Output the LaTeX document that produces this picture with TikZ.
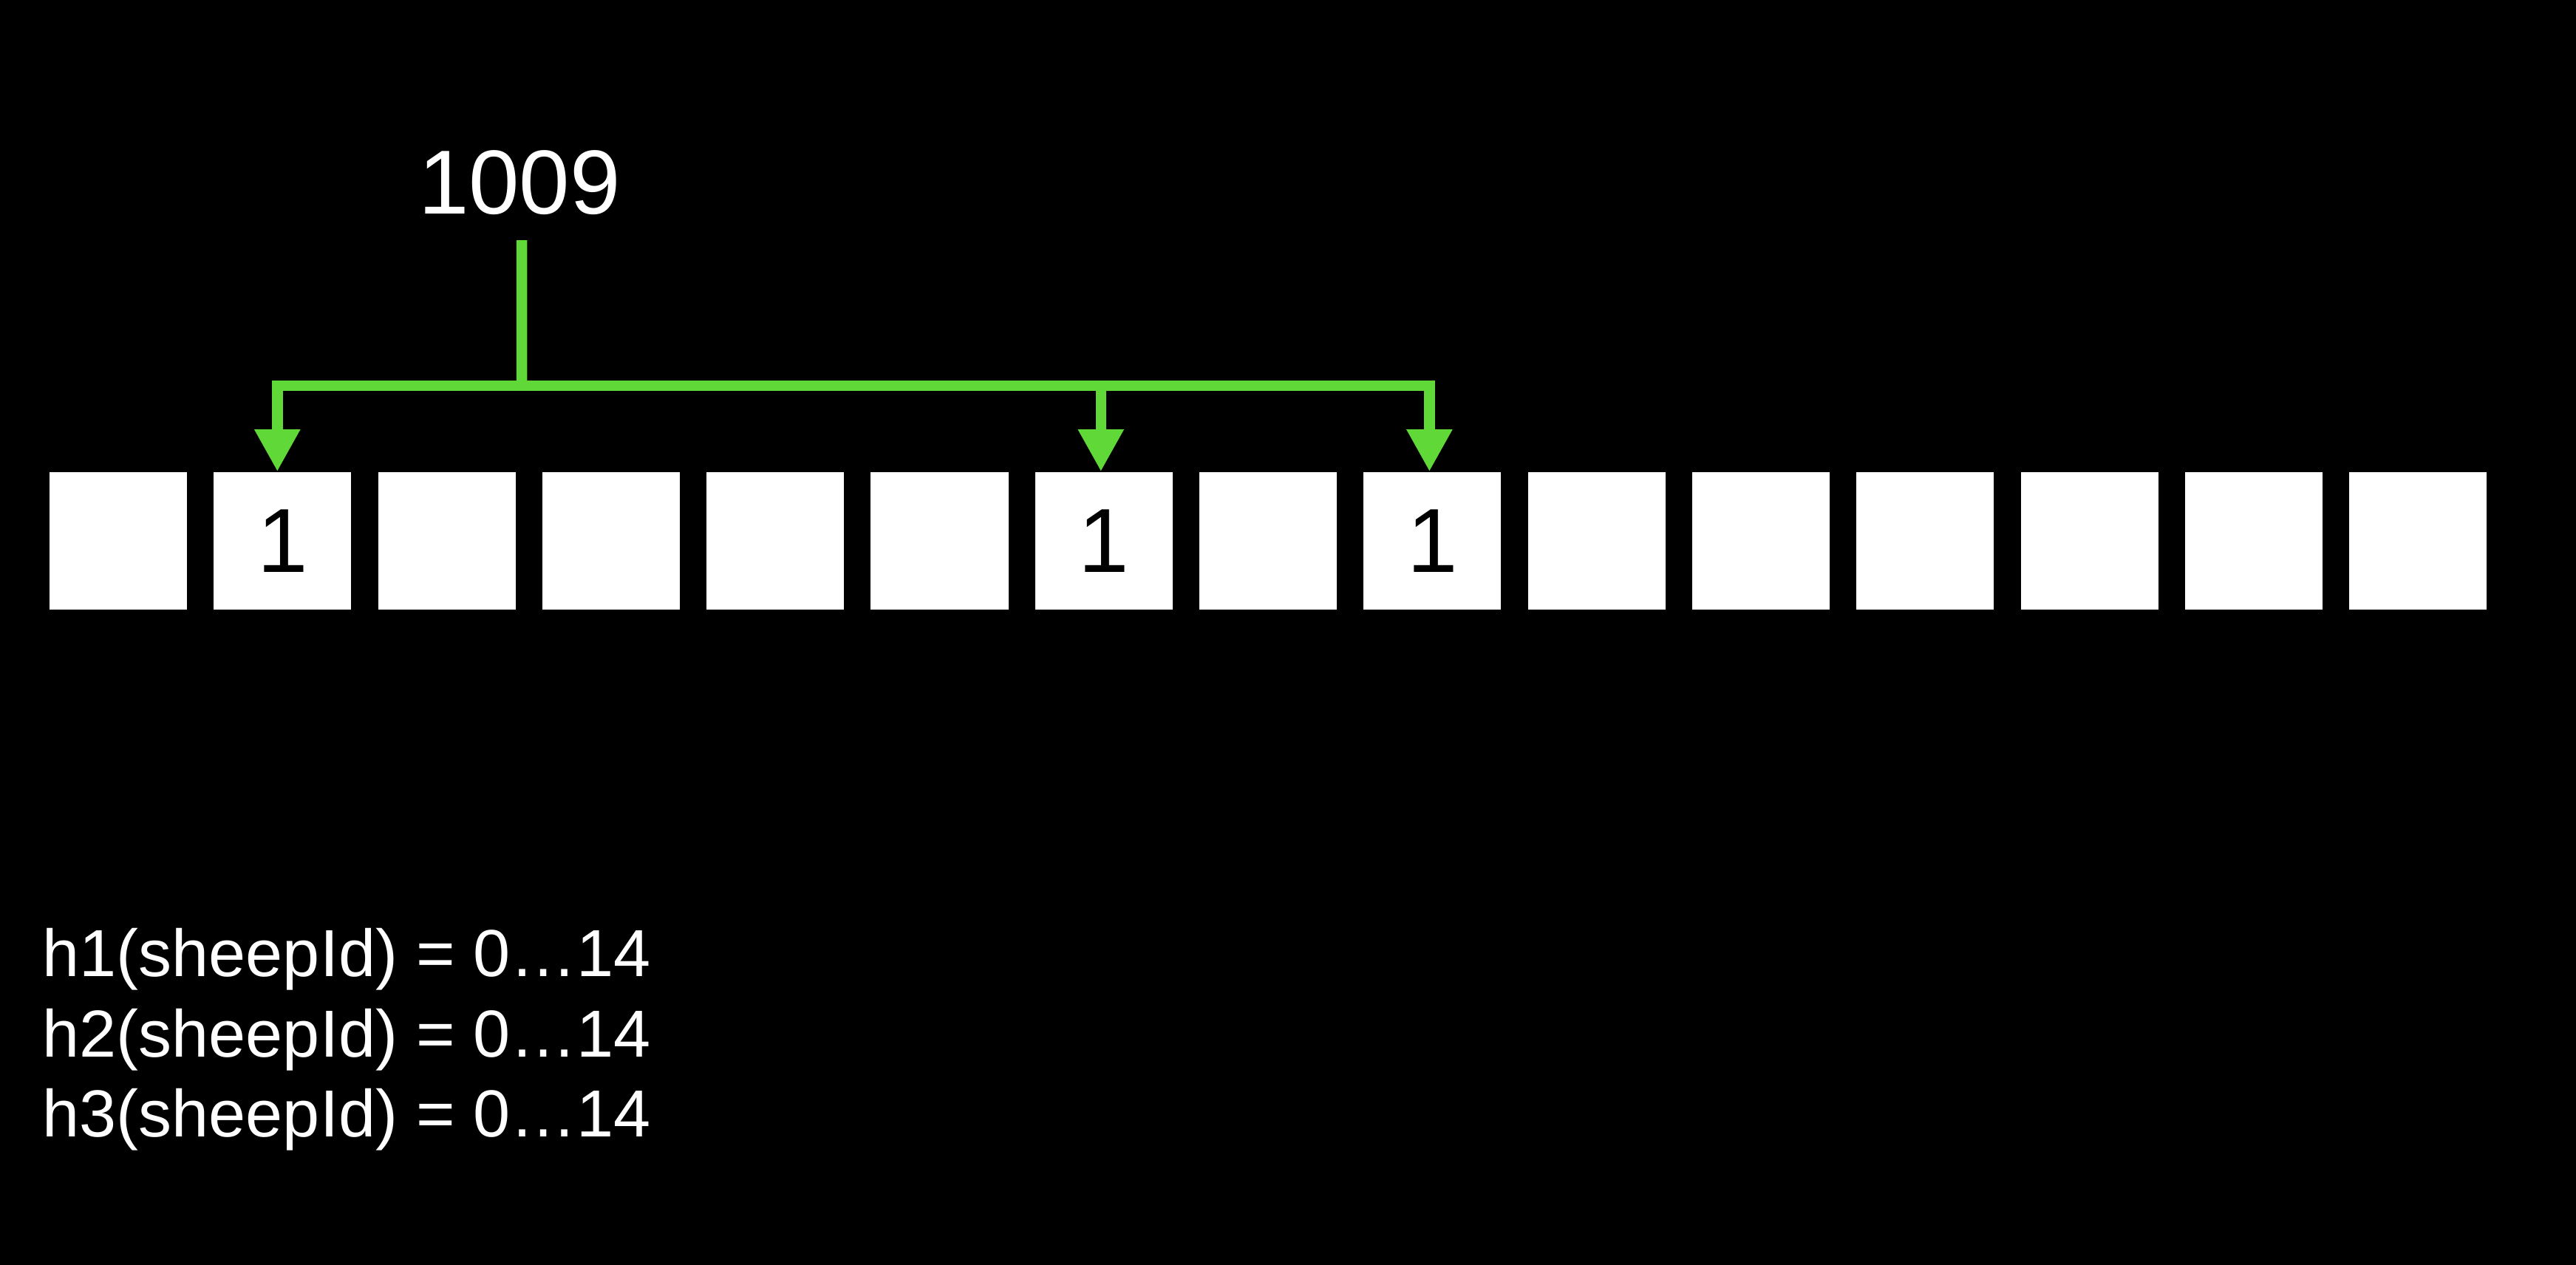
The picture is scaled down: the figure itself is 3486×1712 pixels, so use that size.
\documentclass[tikz,border=0pt]{standalone}
\usepackage{fontspec}
\setmainfont{Liberation Sans}
\usetikzlibrary{arrows.meta}
\definecolor{arrowgreen}{RGB}{96,216,56}
\begin{document}
\begin{tikzpicture}[x=0.01cm,y=-0.01cm,
  cell/.style={fill=white, minimum size=1.86cm, inner sep=0pt, text=black, font=\fontsize{35}{42}\selectfont},
  link/.style={draw=arrowgreen, line width=0.145cm, line join=miter},
  tip/.style={-{Triangle[width=0.58cm,length=0.57cm]}},
  big/.style={text=white, inner sep=0pt, font=\fontsize{35}{42}\selectfont},
  fn/.style={text=white, inner sep=0pt, anchor=base west, font=\fontsize{25.6}{30}\selectfont}]
\fill[black] (0,0) rectangle (3486,1712);
\foreach \i/\t in {0/,1/1,2/,3/,4/,5/,6/1,7/,8/1,9/,10/,11/,12/,13/,14/} {
  \node[cell] (b\i) at ({160+222.3*\i},732) {\t};
}
\node[big, anchor=base] (n1009) at (703,289.5) {1009};
\coordinate (stem) at ([xshift=0.03cm,yshift=-0.355cm]n1009.base);
\coordinate (j) at (706,522);
\draw[link] (stem) -- (j);
\draw[link,tip] (j) -| ([xshift=-0.07cm]b1.north);
\draw[link,tip] (j) -| ([xshift=-0.04cm]b8.north);
\draw[link,tip] ([xshift=-0.04cm]b6.north |- j) -- ([xshift=-0.04cm]b6.north);
\node[fn] (h1) at (57,1321.7) {h1(sheepId) = 0…14};
\node[fn] (h2) at (57,1430) {h2(sheepId) = 0…14};
\node[fn] (h3) at (57,1538) {h3(sheepId) = 0…14};
\end{tikzpicture}
\end{document}
